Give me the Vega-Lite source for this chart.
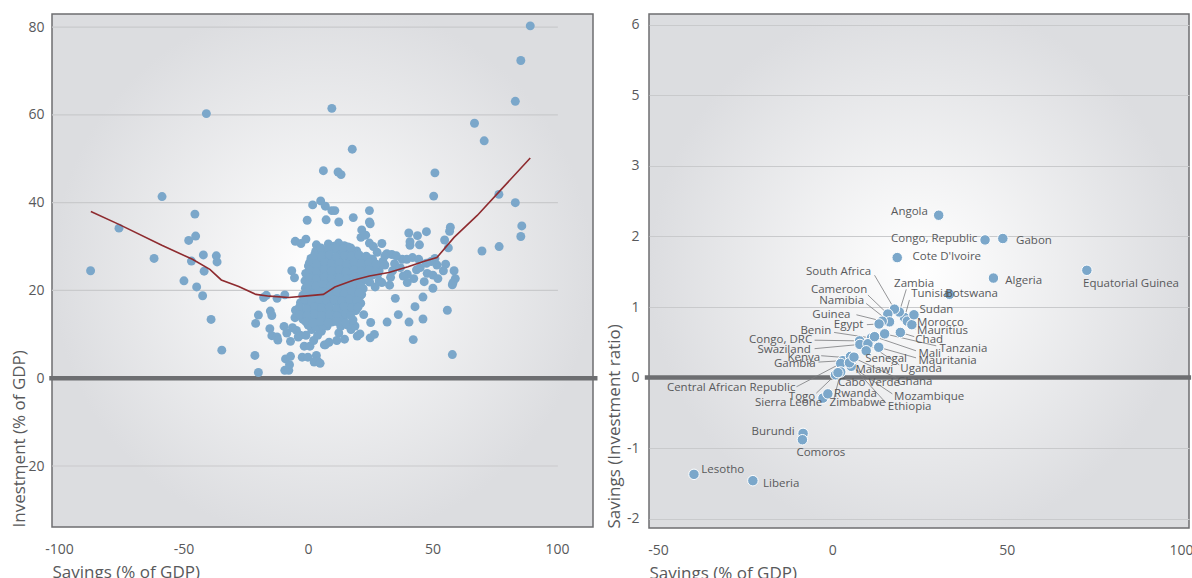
{
"$schema": "https://vega.github.io/schema/vega-lite/v6.json",
"background": "white",
"padding": {"left": 9, "top": 13, "right": 0, "bottom": 0},
"spacing": 3,
"config": {
  "font": "Open Sans",
  "view": {"stroke": "#6d6e70", "strokeWidth": 1.5},
  "axis": {"labelFont": "Open Sans", "labelFontSize": 14, "labelColor": "#58595b", "titleFont": "Open Sans", "titleFontSize": 17, "titleFontWeight": "normal", "titleColor": "#58595b", "ticks": false, "tickSize": 0, "domain": false, "titleAnchor": "start"}
},
"hconcat": [
{
  "width": 541, "height": 513,
  "view": {"fill": {"gradient": "radial", "stops": [{"offset": 0, "color": "#ffffff"}, {"offset": 1, "color": "#dcdde0"}]}, "stroke": "#6d6e70", "strokeWidth": 1.5},
  "layer": [
    {
      "data": {"values": [{"g": -20}, {"g": 20}, {"g": 40}, {"g": 60}, {"g": 80}]},
      "mark": {"type": "rule", "color": "#c9cacc", "strokeWidth": 1.2},
      "encoding": {
        "y": {"field": "g", "type": "quantitative", "scale": {"domain": [-33.9, 83], "nice": false, "zero": false},
              "axis": {"values": [-20, 0, 20, 40, 60, 80], "grid": false, "labelPadding": 8, "titlePadding": -5, "title": "Investment (% of GDP)", "labelExpr": "replace(datum.label, '−', '-')"}},
        "x": {"datum": -102.8, "type": "quantitative", "scale": {"domain": [-102.8, 114.5], "nice": false, "zero": false},
              "axis": {"values": [-100, -50, 0, 50, 100], "grid": false, "labelPadding": 15, "titlePadding": 8, "title": "Savings (% of GDP)", "labelExpr": "replace(datum.label, '−', '-')"}},
        "x2": {"datum": 100.4}
      }
    },
    {
      "data": {"values": [{}]},
      "mark": {"type": "rule", "color": "#6d6e71", "strokeWidth": 4.5},
      "encoding": {
        "y": {"datum": 0, "type": "quantitative", "scale": {"domain": [-33.9, 83], "nice": false, "zero": false},
              "axis": {"values": [-20, 0, 20, 40, 60, 80], "grid": false, "labelPadding": 8, "titlePadding": -5, "title": "Investment (% of GDP)", "labelExpr": "replace(datum.label, '−', '-')"}},
        "x": {"datum": -103.9, "type": "quantitative", "scale": {"domain": [-102.8, 114.5], "nice": false, "zero": false},
              "axis": {"values": [-100, -50, 0, 50, 100], "grid": false, "labelPadding": 15, "titlePadding": 8, "title": "Savings (% of GDP)", "labelExpr": "replace(datum.label, '−', '-')"}},
        "x2": {"datum": 116.3}
      }
    },
    {
      "data": {"values": [
{"s":89.3,"i":80.3},{"s":85.5,"i":72.4},{"s":83.3,"i":63.1},{"s":66.9,"i":58.1},{"s":70.8,"i":54.1},{"s":76.7,"i":41.9},{"s":83.3,"i":40.0},{"s":85.9,"i":34.7},{"s":85.5,"i":32.3},{"s":76.8,"i":30.0},{"s":69.9,"i":29.0},{"s":58.0,"i":5.4},{"s":56.0,"i":15.5},{"s":51.0,"i":46.8},{"s":50.5,"i":41.5},{"s":9.6,"i":61.5},{"s":-40.8,"i":60.3},{"s":17.8,"i":52.2},{"s":6.2,"i":47.3},{"s":12.1,"i":47.0},{"s":13.3,"i":46.4},{"s":-58.6,"i":41.4},{"s":-87.3,"i":24.5},{"s":-75.9,"i":34.2},{"s":-61.8,"i":27.3},{"s":-45.4,"i":37.4},{"s":-47.9,"i":31.4},{"s":-45.1,"i":32.4},{"s":-46.8,"i":26.7},{"s":-42.0,"i":28.1},{"s":-41.7,"i":24.4},{"s":-36.8,"i":27.9},{"s":-36.5,"i":26.5},{"s":-49.8,"i":22.2},{"s":-44.7,"i":20.8},{"s":-42.3,"i":18.8},{"s":-38.9,"i":13.4},{"s":-34.6,"i":6.4},{"s":-21.3,"i":5.2},{"s":-19.9,"i":1.3},{"s":-21.0,"i":12.5},{"s":-19.9,"i":14.4},{"s":-17.8,"i":18.4},{"s":-16.7,"i":18.9},{"s":-12.4,"i":18.2},{"s":-9.3,"i":19.0},{"s":-15.1,"i":15.3},{"s":-14.5,"i":14.3},{"s":-15.3,"i":11.3},{"s":-14.5,"i":9.7},{"s":-12.4,"i":9.4},{"s":-12.1,"i":8.7},{"s":-9.6,"i":11.8},{"s":-8.5,"i":10.3},{"s":-7.0,"i":8.4},{"s":-6.5,"i":24.5},{"s":-5.4,"i":22.9},{"s":-5.1,"i":31.2},{"s":-2.8,"i":30.7},{"s":-0.8,"i":31.7},{"s":-0.3,"i":36.0},{"s":1.9,"i":39.5},{"s":5.1,"i":40.4},{"s":7.0,"i":39.2},{"s":9.6,"i":38.2},{"s":10.8,"i":38.2},{"s":7.3,"i":36.1},{"s":12.4,"i":35.6},{"s":18.2,"i":36.6},{"s":24.7,"i":38.2},{"s":24.7,"i":35.6},{"s":25.0,"i":35.2},{"s":21.3,"i":32.1},{"s":23.2,"i":32.6},{"s":29.7,"i":30.7},{"s":31.7,"i":28.4},{"s":33.7,"i":28.2},{"s":34.8,"i":26.1},{"s":37.9,"i":27.1},{"s":39.7,"i":27.1},{"s":40.5,"i":33.1},{"s":41.0,"i":31.1},{"s":41.0,"i":30.3},{"s":44.0,"i":32.5},{"s":44.8,"i":30.4},{"s":47.6,"i":33.4},{"s":42.0,"i":27.5},{"s":44.5,"i":27.1},{"s":43.6,"i":24.7},{"s":45.1,"i":25.2},{"s":39.9,"i":23.7},{"s":39.9,"i":21.8},{"s":42.5,"i":22.7},{"s":46.7,"i":22.0},{"s":47.9,"i":23.9},{"s":50.2,"i":23.5},{"s":52.2,"i":22.7},{"s":50.2,"i":20.5},{"s":51.0,"i":27.3},{"s":51.8,"i":25.8},{"s":55.3,"i":26.0},{"s":54.9,"i":31.5},{"s":56.9,"i":33.5},{"s":57.2,"i":34.4},{"s":56.4,"i":29.7},{"s":58.7,"i":24.5},{"s":59.2,"i":22.7},{"s":58.3,"i":21.8},{"s":58.0,"i":21.3},{"s":54.4,"i":24.5},{"s":46.2,"i":18.5},{"s":43.0,"i":16.3},{"s":36.3,"i":14.5},{"s":35.1,"i":18.2},{"s":40.6,"i":12.8},{"s":42.3,"i":8.8},{"s":46.2,"i":13.5},{"s":31.8,"i":12.8},{"s":25.2,"i":12.7},{"s":25.0,"i":9.2},{"s":26.7,"i":10.0},{"s":29.7,"i":21.8},{"s":28.6,"i":22.2},{"s":33.2,"i":23.0},{"s":34.0,"i":24.5},{"s":30.1,"i":26.6},
{"s":-9.0,"i":4.4},{"s":-7.0,"i":5.0},{"s":-9.3,"i":1.8},{"s":-7.7,"i":1.8},{"s":-7.4,"i":3.1},{"s":-2.3,"i":4.8},{"s":0,"i":4.8},{"s":3.4,"i":5.2},{"s":3.9,"i":3.9},{"s":2.5,"i":3.7},{"s":4.9,"i":3.4},{"s":-1.5,"i":7.3},{"s":0.8,"i":7.3},{"s":6.6,"i":7.6},{"s":2.3,"i":8.6},{"s":14.7,"i":8.9},{"s":19.8,"i":9.6},{"s":20.9,"i":10.1},{"s":12.4,"i":10.3},{"s":17.3,"i":11.1},{"s":18.9,"i":11.9},{"s":7.7,"i":11.9},{"s":9.6,"i":12.8},{"s":-3.1,"i":9.8},{"s":-4.6,"i":10.9},{"s":-6.2,"i":11.5},{"s":-3.9,"i":9.4},{"s":-0.8,"i":9.8},{"s":1.5,"i":11.1},{"s":3.9,"i":9.8},{"s":5.4,"i":10.7},
{"s":3.4,"i":30.4},{"s":3.9,"i":29.2},{"s":1.5,"i":26.1},{"s":21.6,"i":33.8},{"s":24.7,"i":30.8},{"s":26.3,"i":30.0},{"s":27.8,"i":28.7},{"s":30.9,"i":27.9},{"s":22.4,"i":14.5},{"s":20.9,"i":17.0},{"s":21.6,"i":19.1},{"s":11.6,"i":8.6},{"s":8.5,"i":8.2},{"s":7.0,"i":7.6},{"s":30.9,"i":25.8},{"s":37.1,"i":25.2},{"s":38.3,"i":23.3},{"s":32.8,"i":21.2},{"s":27.0,"i":20.8},{"s":28.6,"i":24.5},{"s":26.0,"i":27.1},{"s":35.5,"i":27.9},{"s":47.6,"i":26.2},{"s":49.5,"i":26.6},
{"s":8.2,"i":30.6},{"s":10.5,"i":30.1},{"s":12.3,"i":30.8},{"s":14.6,"i":30.2},{"s":16.1,"i":29.9},
{"s":3.1,"i":28.9},{"s":6.2,"i":28.4},{"s":9.0,"i":29.1},{"s":12.1,"i":28.5},{"s":15.3,"i":28.9},{"s":18.0,"i":28.3},{"s":19.6,"i":29.0},
{"s":1.2,"i":27.3},{"s":4.1,"i":26.8},{"s":7.3,"i":27.4},{"s":10.2,"i":26.9},{"s":13.1,"i":27.2},{"s":16.4,"i":26.7},{"s":19.2,"i":27.5},{"s":22.3,"i":26.9},{"s":25.1,"i":27.2},
{"s":0.2,"i":25.6},{"s":2.4,"i":25.1},{"s":5.1,"i":25.5},{"s":8.3,"i":25.2},{"s":11.0,"i":25.7},{"s":14.2,"i":25.1},{"s":17.1,"i":25.6},{"s":20.3,"i":25.2},{"s":23.0,"i":25.5},{"s":26.1,"i":25.1},{"s":28.8,"i":25.6},
{"s":-0.9,"i":23.9},{"s":2.1,"i":23.5},{"s":5.2,"i":23.8},{"s":8.1,"i":23.4},{"s":11.2,"i":23.9},{"s":14.0,"i":23.5},{"s":17.3,"i":23.8},{"s":20.1,"i":23.4},{"s":23.2,"i":23.9},{"s":26.0,"i":23.5},{"s":28.1,"i":23.8},
{"s":-1.2,"i":22.2},{"s":2.0,"i":21.8},{"s":4.3,"i":22.1},{"s":7.1,"i":21.7},{"s":10.2,"i":22.2},{"s":13.0,"i":21.8},{"s":16.1,"i":22.1},{"s":19.2,"i":21.7},{"s":22.0,"i":22.2},{"s":24.8,"i":21.9},
{"s":-1.0,"i":20.5},{"s":1.2,"i":20.1},{"s":4.1,"i":20.4},{"s":7.2,"i":20.0},{"s":10.1,"i":20.5},{"s":13.2,"i":20.1},{"s":16.0,"i":20.4},{"s":19.1,"i":20.0},{"s":22.2,"i":20.4},
{"s":-2.1,"i":18.9},{"s":1.0,"i":18.5},{"s":3.2,"i":18.8},{"s":6.1,"i":18.4},{"s":9.2,"i":18.9},{"s":12.0,"i":18.5},{"s":15.1,"i":18.8},{"s":18.2,"i":18.4},{"s":21.0,"i":18.8},
{"s":-3.0,"i":17.2},{"s":0.1,"i":16.8},{"s":3.1,"i":17.1},{"s":6.2,"i":16.7},{"s":9.0,"i":17.2},{"s":12.2,"i":16.8},{"s":15.0,"i":17.1},{"s":18.1,"i":16.7},{"s":21.2,"i":17.1},
{"s":-5.0,"i":15.5},{"s":-2.1,"i":15.1},{"s":1.2,"i":15.4},{"s":4.0,"i":15.0},{"s":7.1,"i":15.5},{"s":10.2,"i":15.1},{"s":13.0,"i":15.4},{"s":16.1,"i":15.0},{"s":19.2,"i":15.4},
{"s":-5.2,"i":13.8},{"s":-2.0,"i":13.4},{"s":1.1,"i":13.7},{"s":4.2,"i":13.3},{"s":7.0,"i":13.8},{"s":10.1,"i":13.4},{"s":14.2,"i":13.7},{"s":18.1,"i":13.3},
{"s":0.1,"i":12.1},{"s":3.2,"i":11.7},{"s":6.1,"i":12.0},{"s":13.2,"i":11.8},{"s":16.0,"i":12.1},
{"s":5.2,"i":29.7},{"s":8.4,"i":29.4},{"s":11.3,"i":29.8},{"s":14.1,"i":29.5},{"s":17.2,"i":29.7},
{"s":2.6,"i":28.0},{"s":5.4,"i":27.8},{"s":8.6,"i":28.1},{"s":11.4,"i":27.7},{"s":14.6,"i":28.0},{"s":17.4,"i":27.8},{"s":20.6,"i":28.1},{"s":23.4,"i":27.8},
{"s":0.6,"i":26.3},{"s":3.4,"i":26.0},{"s":6.6,"i":26.4},{"s":9.4,"i":26.1},{"s":12.6,"i":26.3},{"s":15.4,"i":26.0},{"s":18.6,"i":26.4},{"s":21.4,"i":26.1},{"s":24.6,"i":26.3},{"s":27.4,"i":26.0},
{"s":0.6,"i":24.6},{"s":3.4,"i":24.3},{"s":6.6,"i":24.7},{"s":9.4,"i":24.4},{"s":12.6,"i":24.6},{"s":15.4,"i":24.3},{"s":18.6,"i":24.7},{"s":21.4,"i":24.4},{"s":24.6,"i":24.6},{"s":27.1,"i":24.3},
{"s":0.6,"i":22.9},{"s":3.4,"i":22.6},{"s":6.6,"i":23.0},{"s":9.4,"i":22.7},{"s":12.6,"i":22.9},{"s":15.4,"i":22.6},{"s":18.6,"i":23.0},{"s":21.4,"i":22.7},{"s":24.1,"i":22.9},
{"s":0.1,"i":21.2},{"s":3.1,"i":21.0},{"s":6.1,"i":21.3},{"s":9.1,"i":21.0},{"s":12.1,"i":21.2},{"s":15.1,"i":21.0},{"s":18.1,"i":21.3},{"s":21.1,"i":21.0},
{"s":-0.4,"i":19.6},{"s":2.6,"i":19.3},{"s":5.6,"i":19.7},{"s":8.6,"i":19.4},{"s":11.6,"i":19.6},{"s":14.6,"i":19.3},{"s":17.6,"i":19.7},{"s":20.6,"i":19.4},
{"s":-1.4,"i":17.9},{"s":1.6,"i":17.6},{"s":4.6,"i":18.0},{"s":7.6,"i":17.7},{"s":10.6,"i":17.9},{"s":13.6,"i":17.6},{"s":16.6,"i":18.0},{"s":19.6,"i":17.7},
{"s":-3.4,"i":16.2},{"s":-0.4,"i":15.9},{"s":2.6,"i":16.3},{"s":5.6,"i":16.0},{"s":8.6,"i":16.2},{"s":11.6,"i":15.9},{"s":14.6,"i":16.3},{"s":17.6,"i":16.0},{"s":20.1,"i":16.2},
{"s":-3.4,"i":14.5},{"s":-0.4,"i":14.2},{"s":2.6,"i":14.6},{"s":5.6,"i":14.3},{"s":8.6,"i":14.5},{"s":11.6,"i":14.2},{"s":15.1,"i":14.6},{"s":17.1,"i":14.3},
{"s":-0.9,"i":12.9},{"s":2.1,"i":12.6},{"s":5.1,"i":12.9},{"s":8.1,"i":12.6},{"s":11.6,"i":12.9},{"s":15.1,"i":12.6}
      ]},
      "mark": {"type": "circle", "size": 80, "color": "#7ba7ca", "opacity": 1},
      "encoding": {
        "x": {"field": "s", "type": "quantitative", "scale": {"domain": [-102.8, 114.5], "nice": false, "zero": false},
              "axis": {"values": [-100, -50, 0, 50, 100], "grid": false, "labelPadding": 15, "titlePadding": 8, "title": "Savings (% of GDP)", "labelExpr": "replace(datum.label, '−', '-')"}},
        "y": {"field": "i", "type": "quantitative", "scale": {"domain": [-33.9, 83], "nice": false, "zero": false},
              "axis": {"values": [-20, 0, 20, 40, 60, 80], "grid": false, "labelPadding": 8, "titlePadding": -5, "title": "Investment (% of GDP)", "labelExpr": "replace(datum.label, '−', '-')"}}
      }
    },
    {
      "data": {"values": [
{"s":-87.2,"f":38.0},{"s":-75.7,"f":35.0},{"s":-58.7,"f":30.3},{"s":-46.4,"f":27.1},{"s":-39.4,"f":24.8},{"s":-34.8,"f":22.4},{"s":-27.8,"f":20.9},{"s":-20.9,"f":19.1},{"s":-15.5,"f":18.7},{"s":-7.7,"f":18.4},{"s":-1.5,"f":18.7},{"s":6.2,"f":19.1},{"s":10.8,"f":20.8},{"s":18.5,"f":22.4},{"s":24.7,"f":23.3},{"s":32.5,"f":24.1},{"s":40.2,"f":25.4},{"s":46.4,"f":26.6},{"s":51.8,"f":27.5},{"s":58.7,"f":32.1},{"s":68.0,"f":37.1},{"s":77.3,"f":42.8},{"s":89.3,"f":50.2}
      ]},
      "mark": {"type": "line", "color": "#8e2b2f", "strokeWidth": 1.6},
      "encoding": {
        "x": {"field": "s", "type": "quantitative", "scale": {"domain": [-102.8, 114.5], "nice": false, "zero": false},
              "axis": {"values": [-100, -50, 0, 50, 100], "grid": false, "labelPadding": 15, "titlePadding": 8, "title": "Savings (% of GDP)", "labelExpr": "replace(datum.label, '−', '-')"}},
        "y": {"field": "f", "type": "quantitative", "scale": {"domain": [-33.9, 83], "nice": false, "zero": false},
              "axis": {"values": [-20, 0, 20, 40, 60, 80], "grid": false, "labelPadding": 8, "titlePadding": -5, "title": "Investment (% of GDP)", "labelExpr": "replace(datum.label, '−', '-')"}}
      }
    }
  ]
},
{
  "width": 540, "height": 514,
  "view": {"fill": {"gradient": "radial", "stops": [{"offset": 0, "color": "#ffffff"}, {"offset": 1, "color": "#dcdde0"}]}, "stroke": "#6d6e70", "strokeWidth": 1.5},
  "data": {"values": [
{"c":"Angola","x":30.5,"y":2.30,"lx":27.4,"ly":2.34,"side":"L"},
{"c":"Congo, Republic","x":43.8,"y":1.95,"lx":41.6,"ly":1.96,"side":"L"},
{"c":"Gabon","x":48.9,"y":1.97,"lx":52.7,"ly":1.94,"side":"R"},
{"c":"Cote D'Ivoire","x":18.6,"y":1.70,"lx":23.0,"ly":1.71,"side":"R"},
{"c":"Algeria","x":46.2,"y":1.41,"lx":49.6,"ly":1.37,"side":"R"},
{"c":"Equatorial Guinea","x":73.0,"y":1.52,"lx":71.9,"ly":1.32,"side":"R"},
{"c":"Botswana","x":33.6,"y":1.18,"lx":32.4,"ly":1.18,"side":"R"},
{"c":"Tunisia","x":20.7,"y":0.85,"lx":22.6,"ly":1.18,"side":"R","ax":22.1,"ay":1.10},
{"c":"Zambia","x":19.2,"y":0.93,"lx":17.7,"ly":1.33,"side":"R","ax":21.2,"ay":1.25},
{"c":"South Africa","x":17.8,"y":0.97,"lx":11.1,"ly":1.49,"side":"L","ax":12.1,"ay":1.45},
{"c":"Cameroon","x":15.9,"y":0.90,"lx":10.0,"ly":1.24,"side":"L","ax":10.2,"ay":1.17},
{"c":"Namibia","x":16.4,"y":0.79,"lx":9.1,"ly":1.09,"side":"L","ax":9.7,"ay":1.05},
{"c":"Guinea","x":14.3,"y":0.80,"lx":5.2,"ly":0.88,"side":"L","ax":6.9,"ay":0.89},
{"c":"Egypt","x":13.4,"y":0.76,"lx":8.9,"ly":0.75,"side":"L","ax":9.9,"ay":0.75},
{"c":"Benin","x":11.2,"y":0.56,"lx":-0.3,"ly":0.66,"side":"L","ax":0.5,"ay":0.64},
{"c":"Congo, DRC","x":7.8,"y":0.52,"lx":-5.8,"ly":0.53,"side":"L","ax":-5.1,"ay":0.53},
{"c":"Swaziland","x":7.9,"y":0.47,"lx":-6.2,"ly":0.39,"side":"L","ax":-5.1,"ay":0.41},
{"c":"Kenya","x":4.8,"y":0.28,"lx":-3.5,"ly":0.28,"side":"L","ax":-3.2,"ay":0.31},
{"c":"Gambia","x":3.0,"y":0.24,"lx":-4.8,"ly":0.19,"side":"L","ax":-4.0,"ay":0.22},
{"c":"Central African Republic","x":2.4,"y":0.20,"lx":-10.6,"ly":-0.15,"side":"L","ax":-10.3,"ay":-0.13},
{"c":"Togo","x":0.9,"y":0.04,"lx":-4.9,"ly":-0.28,"side":"L","ax":-4.6,"ay":-0.22},
{"c":"Sierra Leone","x":-2.7,"y":-0.29,"lx":-2.9,"ly":-0.36,"side":"L"},
{"c":"Rwanda","x":-1.3,"y":-0.23,"lx":0.5,"ly":-0.23,"side":"R"},
{"c":"Zimbabwe","x":2.4,"y":0.08,"lx":-0.8,"ly":-0.36,"side":"R","ax":0.5,"ay":-0.29},
{"c":"Cabo Verde","x":1.6,"y":0.07,"lx":1.6,"ly":-0.07,"side":"R","ax":1.6,"ay":-0.01},
{"c":"Ghana","x":5.2,"y":0.30,"lx":18.6,"ly":-0.06,"side":"R","ax":18.3,"ay":0.0},
{"c":"Mozambique","x":5.4,"y":0.16,"lx":17.7,"ly":-0.28,"side":"R","ax":17.2,"ay":-0.23},
{"c":"Ethiopia","x":4.9,"y":0.21,"lx":15.9,"ly":-0.41,"side":"R","ax":15.4,"ay":-0.36},
{"c":"Malawi","x":6.2,"y":0.29,"lx":6.6,"ly":0.11,"side":"R","ax":6.9,"ay":0.16},
{"c":"Uganda","x":10.2,"y":0.48,"lx":19.5,"ly":0.12,"side":"R","ax":19.2,"ay":0.18},
{"c":"Senegal","x":9.7,"y":0.38,"lx":9.4,"ly":0.27,"side":"R"},
{"c":"Mauritania","x":13.3,"y":0.43,"lx":24.7,"ly":0.23,"side":"R","ax":24.0,"ay":0.28},
{"c":"Mali","x":12.1,"y":0.58,"lx":24.7,"ly":0.34,"side":"R","ax":24.0,"ay":0.38},
{"c":"Tanzania","x":15.0,"y":0.62,"lx":30.7,"ly":0.40,"side":"R","ax":29.8,"ay":0.45},
{"c":"Chad","x":19.5,"y":0.64,"lx":23.8,"ly":0.53,"side":"R","ax":23.5,"ay":0.58},
{"c":"Mauritius","x":21.5,"y":0.80,"lx":24.3,"ly":0.66,"side":"R","ax":23.8,"ay":0.69},
{"c":"Morocco","x":22.8,"y":0.75,"lx":24.3,"ly":0.78,"side":"R"},
{"c":"Sudan","x":23.4,"y":0.89,"lx":25.0,"ly":0.96,"side":"R"},
{"c":"Burundi","x":-8.4,"y":-0.79,"lx":-10.8,"ly":-0.77,"side":"L"},
{"c":"Comoros","x":-8.6,"y":-0.88,"lx":-10.3,"ly":-1.07,"side":"R"},
{"c":"Lesotho","x":-39.7,"y":-1.37,"lx":-37.6,"ly":-1.31,"side":"R"},
{"c":"Liberia","x":-22.8,"y":-1.46,"lx":-19.9,"ly":-1.50,"side":"R"}
  ]},
  "layer": [
    {
      "data": {"values": [{}]},
      "mark": {"type": "rule", "color": "#6d6e71", "strokeWidth": 4.5},
      "encoding": {
        "y": {"datum": 0, "type": "quantitative", "scale": {"domain": [-2.13, 5.15], "nice": false, "zero": false},
              "axis": {"values": [-2, -1, 0, 1, 2, 3, 4, 5], "grid": true, "gridColor": "#c9cacc", "gridWidth": 1.2, "labelPadding": 10, "titlePadding": 3, "title": "Savings (Investment ratio)", "labelExpr": "datum.value == 5 ? '6' : (datum.value == 4 ? '5' : replace(datum.label, '−', '-'))"}},
        "x": {"datum": -53.8, "type": "quantitative", "scale": {"domain": [-52.6, 102.3], "nice": false, "zero": false},
              "axis": {"values": [-50, 0, 50, 100], "grid": false, "labelPadding": 15, "titlePadding": 8, "title": "Savings (% of GDP)", "labelExpr": "replace(datum.label, '−', '-')"}},
        "x2": {"datum": 102.9}
      }
    },
    {
      "transform": [{"filter": "isValid(datum.ax)"}],
      "mark": {"type": "rule", "color": "#7a7b7d", "strokeWidth": 0.8},
      "encoding": {
        "x": {"field": "ax", "type": "quantitative", "scale": {"domain": [-52.6, 102.3], "nice": false, "zero": false},
              "axis": {"values": [-50, 0, 50, 100], "grid": false, "labelPadding": 15, "titlePadding": 8, "title": "Savings (% of GDP)", "labelExpr": "replace(datum.label, '−', '-')"}},
        "y": {"field": "ay", "type": "quantitative", "scale": {"domain": [-2.13, 5.15], "nice": false, "zero": false},
              "axis": {"values": [-2, -1, 0, 1, 2, 3, 4, 5], "grid": true, "gridColor": "#c9cacc", "gridWidth": 1.2, "labelPadding": 10, "titlePadding": 3, "title": "Savings (Investment ratio)", "labelExpr": "datum.value == 5 ? '6' : (datum.value == 4 ? '5' : replace(datum.label, '−', '-'))"}},
        "x2": {"field": "x"},
        "y2": {"field": "y"}
      }
    },
    {
      "mark": {"type": "circle", "size": 110, "color": "#7ba7ca", "opacity": 1, "stroke": "#ffffff", "strokeWidth": 1},
      "encoding": {
        "x": {"field": "x", "type": "quantitative", "scale": {"domain": [-52.6, 102.3], "nice": false, "zero": false},
              "axis": {"values": [-50, 0, 50, 100], "grid": false, "labelPadding": 15, "titlePadding": 8, "title": "Savings (% of GDP)", "labelExpr": "replace(datum.label, '−', '-')"}},
        "y": {"field": "y", "type": "quantitative", "scale": {"domain": [-2.13, 5.15], "nice": false, "zero": false},
              "axis": {"values": [-2, -1, 0, 1, 2, 3, 4, 5], "grid": true, "gridColor": "#c9cacc", "gridWidth": 1.2, "labelPadding": 10, "titlePadding": 3, "title": "Savings (Investment ratio)", "labelExpr": "datum.value == 5 ? '6' : (datum.value == 4 ? '5' : replace(datum.label, '−', '-'))"}}
      }
    },
    {
      "transform": [{"filter": "datum.side == 'L'"}],
      "mark": {"type": "text", "align": "right", "baseline": "middle", "font": "Open Sans", "fontSize": 11.5, "color": "#58595b"},
      "encoding": {
        "x": {"field": "lx", "type": "quantitative", "scale": {"domain": [-52.6, 102.3], "nice": false, "zero": false},
              "axis": {"values": [-50, 0, 50, 100], "grid": false, "labelPadding": 15, "titlePadding": 8, "title": "Savings (% of GDP)", "labelExpr": "replace(datum.label, '−', '-')"}},
        "y": {"field": "ly", "type": "quantitative", "scale": {"domain": [-2.13, 5.15], "nice": false, "zero": false},
              "axis": {"values": [-2, -1, 0, 1, 2, 3, 4, 5], "grid": true, "gridColor": "#c9cacc", "gridWidth": 1.2, "labelPadding": 10, "titlePadding": 3, "title": "Savings (Investment ratio)", "labelExpr": "datum.value == 5 ? '6' : (datum.value == 4 ? '5' : replace(datum.label, '−', '-'))"}},
        "text": {"field": "c"}
      }
    },
    {
      "transform": [{"filter": "datum.side == 'R'"}],
      "mark": {"type": "text", "align": "left", "baseline": "middle", "font": "Open Sans", "fontSize": 11.5, "color": "#58595b"},
      "encoding": {
        "x": {"field": "lx", "type": "quantitative", "scale": {"domain": [-52.6, 102.3], "nice": false, "zero": false},
              "axis": {"values": [-50, 0, 50, 100], "grid": false, "labelPadding": 15, "titlePadding": 8, "title": "Savings (% of GDP)", "labelExpr": "replace(datum.label, '−', '-')"}},
        "y": {"field": "ly", "type": "quantitative", "scale": {"domain": [-2.13, 5.15], "nice": false, "zero": false},
              "axis": {"values": [-2, -1, 0, 1, 2, 3, 4, 5], "grid": true, "gridColor": "#c9cacc", "gridWidth": 1.2, "labelPadding": 10, "titlePadding": 3, "title": "Savings (Investment ratio)", "labelExpr": "datum.value == 5 ? '6' : (datum.value == 4 ? '5' : replace(datum.label, '−', '-'))"}},
        "text": {"field": "c"}
      }
    }
  ]
}
]
}
